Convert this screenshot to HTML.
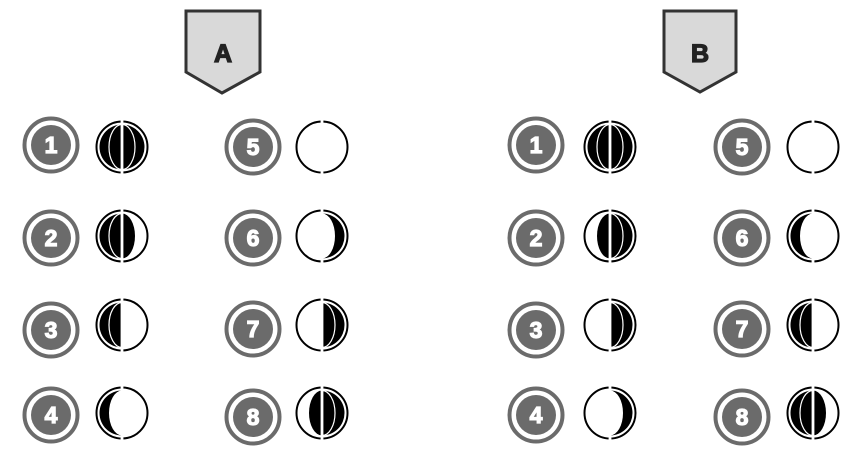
<!DOCTYPE html>
<html><head><meta charset="utf-8"><style>
html,body{margin:0;padding:0;background:#fff;}
svg{display:block;}
</style></head><body>
<svg width="856" height="452" viewBox="0 0 856 452" xmlns="http://www.w3.org/2000/svg">
<defs>
  <g id="ring"><circle r="25.5" fill="none" stroke="#000" stroke-width="2"/></g>
  <g id="gap"><rect x="-1.4" y="-28" width="2.8" height="56" fill="#fff"/></g>
  <g id="full">
    <circle r="22.5" fill="#000"/>
    <ellipse rx="13" ry="22.5" fill="none" stroke="#fff" stroke-width="1.2"/>
  </g>
  <g id="gib">
    <path d="M0,-22.5 A22.5,22.5 0 0 0 0,22.5 A13,22.5 0 0 0 0,-22.5 Z" fill="#000"/>
    <path d="M0,-22.5 A13,22.5 0 0 0 0,22.5" fill="none" stroke="#fff" stroke-width="1.2"/>
  </g>
  <g id="half">
    <path d="M0,-22.5 A22.5,22.5 0 0 0 0,22.5 Z" fill="#000"/>
    <path d="M0,-22.5 A13,22.5 0 0 0 0,22.5" fill="none" stroke="#fff" stroke-width="1.2"/>
  </g>
  <g id="cres">
    <path d="M0,-22.5 A22.5,22.5 0 0 0 0,22.5 A13,22.5 0 0 1 0,-22.5 Z" fill="#000"/>
  </g>
  <g id="badge">
    <circle r="26.5" fill="#fff" stroke="#6b6b6b" stroke-width="4"/>
    <circle r="20" fill="#6b6b6b"/>
  </g>
</defs>
<style>
 .n{font-family:"Liberation Sans",sans-serif;font-weight:bold;font-size:23px;fill:#fff;stroke:#fff;stroke-width:1.2;text-anchor:middle;}
 .L{font-family:"Liberation Sans",sans-serif;font-weight:bold;font-size:25px;fill:#222;stroke:#222;stroke-width:1.3;text-anchor:middle;}
</style>

<path d="M186,11 L260,11 L260,72 L222,93 L186,72 Z" fill="#d9d9d9" stroke="#333" stroke-width="3"/>
<text class="L" x="223" y="62">A</text>
<path d="M664,11 L736,11 L736,72 L700,92 L664,72 Z" fill="#d9d9d9" stroke="#333" stroke-width="3"/>
<text class="L" x="700" y="62">B</text>

<g>
 <use href="#badge" x="51" y="145"/><text class="n" x="51" y="153">1</text>
 <use href="#badge" x="51" y="238"/><text class="n" x="51" y="246">2</text>
 <use href="#badge" x="51" y="330"/><text class="n" x="51" y="338">3</text>
 <use href="#badge" x="51" y="415"/><text class="n" x="51" y="423">4</text>
 <use href="#badge" x="253" y="147"/><text class="n" x="253" y="155">5</text>
 <use href="#badge" x="253" y="238"/><text class="n" x="253" y="246">6</text>
 <use href="#badge" x="253" y="329"/><text class="n" x="253" y="337">7</text>
 <use href="#badge" x="253" y="417"/><text class="n" x="253" y="425">8</text>

 <use href="#badge" x="536" y="145"/><text class="n" x="536" y="153">1</text>
 <use href="#badge" x="536" y="238"/><text class="n" x="536" y="246">2</text>
 <use href="#badge" x="536" y="330"/><text class="n" x="536" y="338">3</text>
 <use href="#badge" x="536" y="415"/><text class="n" x="536" y="423">4</text>
 <use href="#badge" x="742" y="147"/><text class="n" x="742" y="155">5</text>
 <use href="#badge" x="742" y="238"/><text class="n" x="742" y="246">6</text>
 <use href="#badge" x="742" y="329"/><text class="n" x="742" y="337">7</text>
 <use href="#badge" x="742" y="417"/><text class="n" x="742" y="425">8</text>
</g>

<g transform="translate(122,147)"><use href="#ring"/><use href="#full"/><use href="#gap"/></g>
<g transform="translate(122,236)"><use href="#ring"/><use href="#gib"/><use href="#gap"/></g>
<g transform="translate(122,325)"><use href="#ring"/><use href="#half"/><use href="#gap"/></g>
<g transform="translate(122,413)"><use href="#ring"/><use href="#cres"/><use href="#gap"/></g>
<g transform="translate(322,147)"><use href="#ring"/><use href="#gap"/></g>
<g transform="translate(322,236) scale(-1,1)"><use href="#ring"/><use href="#cres"/><use href="#gap"/></g>
<g transform="translate(322,325) scale(-1,1)"><use href="#ring"/><use href="#half"/><use href="#gap"/></g>
<g transform="translate(322,413) scale(-1,1)"><use href="#ring"/><use href="#gib"/><use href="#gap"/></g>

<g transform="translate(610,147)"><use href="#ring"/><use href="#full"/><use href="#gap"/></g>
<g transform="translate(610,236) scale(-1,1)"><use href="#ring"/><use href="#gib"/><use href="#gap"/></g>
<g transform="translate(610,325) scale(-1,1)"><use href="#ring"/><use href="#half"/><use href="#gap"/></g>
<g transform="translate(610,413) scale(-1,1)"><use href="#ring"/><use href="#cres"/><use href="#gap"/></g>
<g transform="translate(813,147)"><use href="#ring"/><use href="#gap"/></g>
<g transform="translate(813,236)"><use href="#ring"/><use href="#cres"/><use href="#gap"/></g>
<g transform="translate(813,325)"><use href="#ring"/><use href="#half"/><use href="#gap"/></g>
<g transform="translate(813,413)"><use href="#ring"/><use href="#gib"/><use href="#gap"/></g>
</svg>
</body></html>
